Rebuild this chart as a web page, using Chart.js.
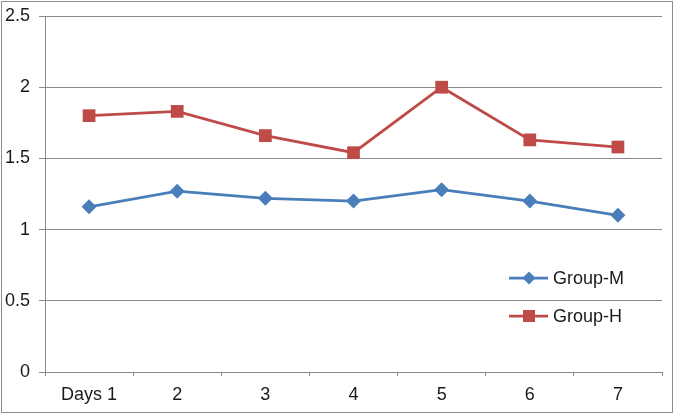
<!DOCTYPE html>
<html><head><meta charset="utf-8">
<script src="https://cdn.jsdelivr.net/npm/chart.js@4"></script>
<style>html,body{margin:0;padding:0;background:#fff}#wrap{width:674px;height:414px}</style>
</head><body><div id="wrap"><canvas id="c" width="674" height="414"></canvas></div>
<script>
const categories = ["Days 1","2","3","4","5","6","7"];
const groupM = [1.16, 1.27, 1.22, 1.20, 1.28, 1.20, 1.10];
const groupH = [1.80, 1.83, 1.66, 1.54, 2.00, 1.63, 1.58];
const seriesNames = ["Group-M","Group-H"];
const yTicks = [0, 0.5, 1, 1.5, 2, 2.5];

const FONT = "'Liberation Sans', Arial, sans-serif";
const BLUE = "#4A7EBB", RED = "#BE4B48", GRID = "#8a8a8a";

const frame = {
  id: 'frame',
  beforeDraw(chart) {
    const ctx = chart.ctx;
    ctx.save();
    ctx.fillStyle = '#fff';
    ctx.fillRect(0, 0, chart.width, chart.height);
    ctx.strokeStyle = '#8c8c8c';
    ctx.lineWidth = 1;
    ctx.strokeRect(1.5, 1.5, chart.width - 3, chart.height - 3);
    ctx.restore();
  }
};

const legendPlugin = {
  id: 'customLegend',
  afterDraw(chart) {
    const ctx = chart.ctx;
    const ys = [278, 316];
    ctx.save();
    chart.data.datasets.forEach((ds, i) => {
      const y = ys[i];
      ctx.strokeStyle = ds.borderColor;
      ctx.lineWidth = 2.75;
      ctx.beginPath();
      ctx.moveTo(509, y);
      ctx.lineTo(548, y);
      ctx.stroke();
      ctx.fillStyle = ds.backgroundColor;
      ctx.beginPath();
      if (ds.pointStyle === 'rectRot') {
        ctx.moveTo(529, y - 6.5); ctx.lineTo(535.5, y); ctx.lineTo(529, y + 6.5); ctx.lineTo(522.5, y);
        ctx.closePath();
      } else {
        ctx.rect(523, y - 6, 12, 12);
      }
      ctx.fill();
      ctx.fillStyle = '#1a1a1a';
      ctx.font = '18px ' + FONT;
      ctx.textBaseline = 'middle';
      ctx.textAlign = 'left';
      ctx.fillText(ds.label, 553, y + 1);
    });
    ctx.restore();
  }
};

new Chart(document.getElementById('c'), {
  type: 'line',
  data: {
    labels: categories,
    datasets: [
      { label: seriesNames[0], data: groupM, borderColor: BLUE, backgroundColor: BLUE,
        borderWidth: 2.75, pointStyle: 'rectRot', pointRadius: 7.5, pointBorderWidth: 0,
        pointBackgroundColor: BLUE, tension: 0 },
      { label: seriesNames[1], data: groupH, borderColor: RED, backgroundColor: RED,
        borderWidth: 2.75, pointStyle: 'rect', pointRadius: 9, pointBorderWidth: 0,
        pointBackgroundColor: RED, tension: 0 }
    ]
  },
  options: {
    responsive: false,
    animation: false,
    devicePixelRatio: 1,
    layout: { padding: { top: 16, right: 12, left: 0, bottom: 0 } },
    plugins: { legend: { display: false }, tooltip: { enabled: false } },
    scales: {
      x: {
        offset: true,
        grid: { offset: true, drawOnChartArea: false, drawTicks: true, tickLength: 4, color: GRID },
        border: { color: GRID, width: 1 },
        ticks: { color: '#1a1a1a', font: { family: FONT, size: 18 }, padding: 8, maxRotation: 0 },
        afterFit(s) { s.height = 42; s.paddingLeft = 0; s.paddingRight = 0; }
      },
      y: {
        min: 0, max: 2.5,
        afterBuildTicks(s) { s.ticks = yTicks.map(v => ({ value: v })); },
        grid: { color: GRID, tickLength: 6, drawTicks: true },
        border: { color: GRID, width: 1 },
        ticks: { color: '#1a1a1a', font: { family: FONT, size: 18 }, padding: 9,
                 callback: v => String(v) },
        afterFit(s) { s.width = 45; s.paddingTop = 0; s.paddingBottom = 0; }
      }
    }
  },
  plugins: [frame, legendPlugin]
});
</script></body></html>
